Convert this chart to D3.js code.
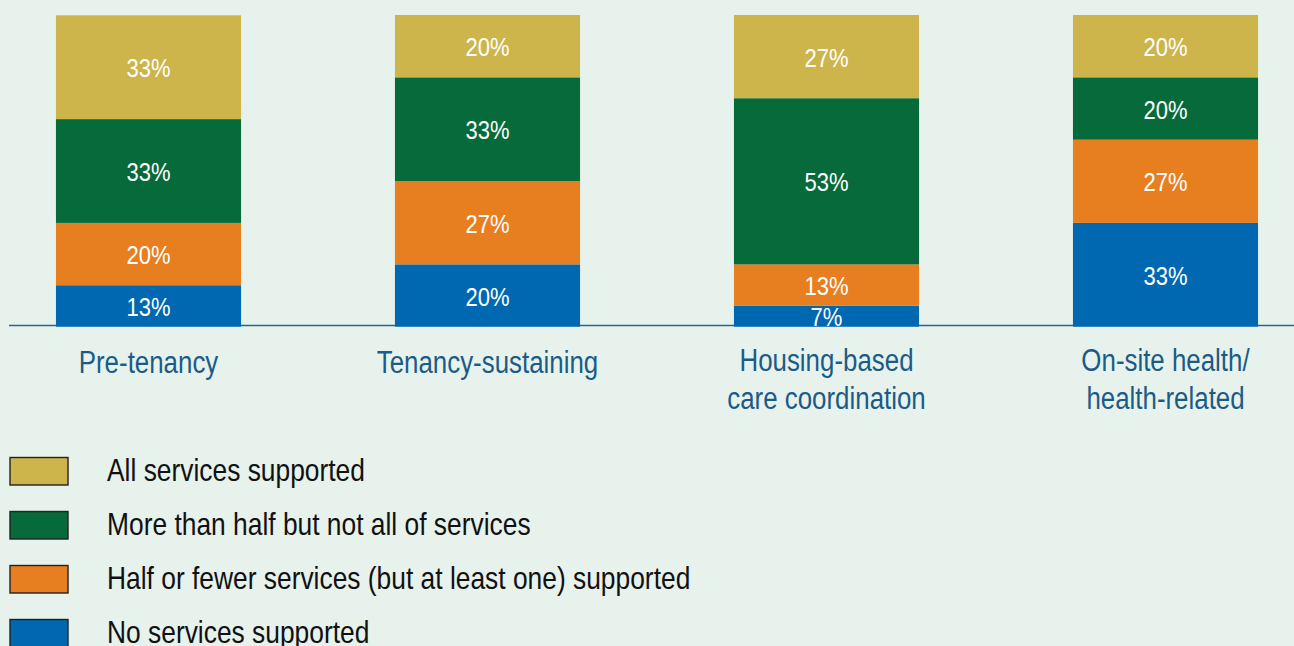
<!DOCTYPE html>
<html>
<head>
<meta charset="utf-8">
<script src="https://cdn.jsdelivr.net/npm/d3@7/dist/d3.min.js"></script>
<style>
  html, body { margin: 0; padding: 0; background: #e7f2ec; }
  svg { display: block; }
  text { font-family: "Liberation Sans", Arial, sans-serif; }
</style>
</head>
<body>
<svg id="chart" width="1294" height="646"></svg>
<script>
// ---- Data (percent of respondents) ----
const categories = ["Pre-tenancy", "Tenancy-sustaining", "Housing-based\ncare coordination", "On-site health/\nhealth-related"];
const seriesNames = ["No services supported", "Half or fewer services (but at least one) supported", "More than half but not all of services", "All services supported"];
const noneValues = [13.3, 20.0, 6.7, 33.3];
const halfOrFewerValues = [20.0, 26.7, 13.3, 26.7];
const moreThanHalfValues = [33.3, 33.3, 53.3, 20.0];
const allValues = [33.3, 20.0, 26.7, 20.0];
const seriesColors = ["#0067b1", "#e77e1f", "#066a3a", "#cdb54b"];

const series = [noneValues, halfOrFewerValues, moreThanHalfValues, allValues];

const svg = d3.select("#chart");

// condensed text helper (horizontal squeeze to mimic a narrow face)
function narrowText(sel, cx, cy, sx, anchor) {
  return sel.append("text")
    .attr("transform", `translate(${cx},${cy}) scale(${sx},1)`)
    .attr("text-anchor", anchor);
}

// scales
const x = d3.scaleBand().domain(categories).range([-21, 1335]).paddingInner(0.454).paddingOuter(0.227);
const y = d3.scaleLinear().domain([0, 100]).range([326.7, 15]);

// stacked data
const rows = categories.map((c, i) => {
  const o = { cat: c };
  seriesNames.forEach((s, k) => o[s] = series[k][i]);
  return o;
});
const stack = d3.stack().keys(seriesNames)(rows);

// baseline
svg.append("line")
  .attr("x1", 9).attr("x2", 1294)
  .attr("y1", y(0) - 1.2).attr("y2", y(0) - 1.2)
  .attr("stroke", "#2a6590").attr("stroke-width", 1.5);

const layer = svg.append("g").selectAll("g").data(stack).join("g")
  .attr("fill", (d, k) => seriesColors[k]);

layer.selectAll("rect").data(d => d).join("rect")
  .attr("x", d => x(d.data.cat))
  .attr("width", x.bandwidth())
  .attr("y", d => y(d[1]))
  .attr("height", d => y(d[0]) - y(d[1]));

// value labels
const lab = svg.append("g");
stack.forEach((s) => {
  s.forEach((d) => {
    narrowText(lab, x(d.data.cat) + x.bandwidth() / 2, (y(d[0]) + y(d[1])) / 2, 0.88, "middle")
      .attr("dy", "0.4em")
      .attr("fill", "#ffffff")
      .attr("font-size", 25)
      .text(Math.round(d[1] - d[0]) + "%");
  });
});

// category axis
const xAxis = d3.axisBottom(x).tickSize(0).tickFormat("");
const axisG = svg.append("g").attr("transform", `translate(0,${y(0)})`).call(xAxis);
axisG.select(".domain").remove();
axisG.selectAll(".tick").each(function(c) {
  const lines = c.split("\n");
  const t = d3.select(this).append("text")
    .attr("transform", "scale(0.835,1)")
    .attr("text-anchor", "middle")
    .attr("fill", "#1b5b88")
    .attr("font-size", 31);
  lines.forEach((l, j) => {
    t.append("tspan").attr("x", 0).attr("y", (lines.length > 1 ? 44.5 : 46.5) + j * 37.5).text(l);
  });
});

// legend (top to bottom: All, More than half, Half or fewer, None)
const legendOrder = [3, 2, 1, 0];
const lg = svg.append("g");
legendOrder.forEach((k, r) => {
  const gy = 457.5 + r * 54;
  lg.append("rect")
    .attr("x", 10).attr("y", gy)
    .attr("width", 58).attr("height", 27.5)
    .attr("fill", seriesColors[k])
    .attr("stroke", "#222").attr("stroke-width", 1.4);
  narrowText(lg, 107, gy + 23, 0.865, "start")
    .attr("font-size", 30.5)
    .attr("fill", "#111")
    .text(seriesNames[k]);
});
</script>
</body>
</html>
